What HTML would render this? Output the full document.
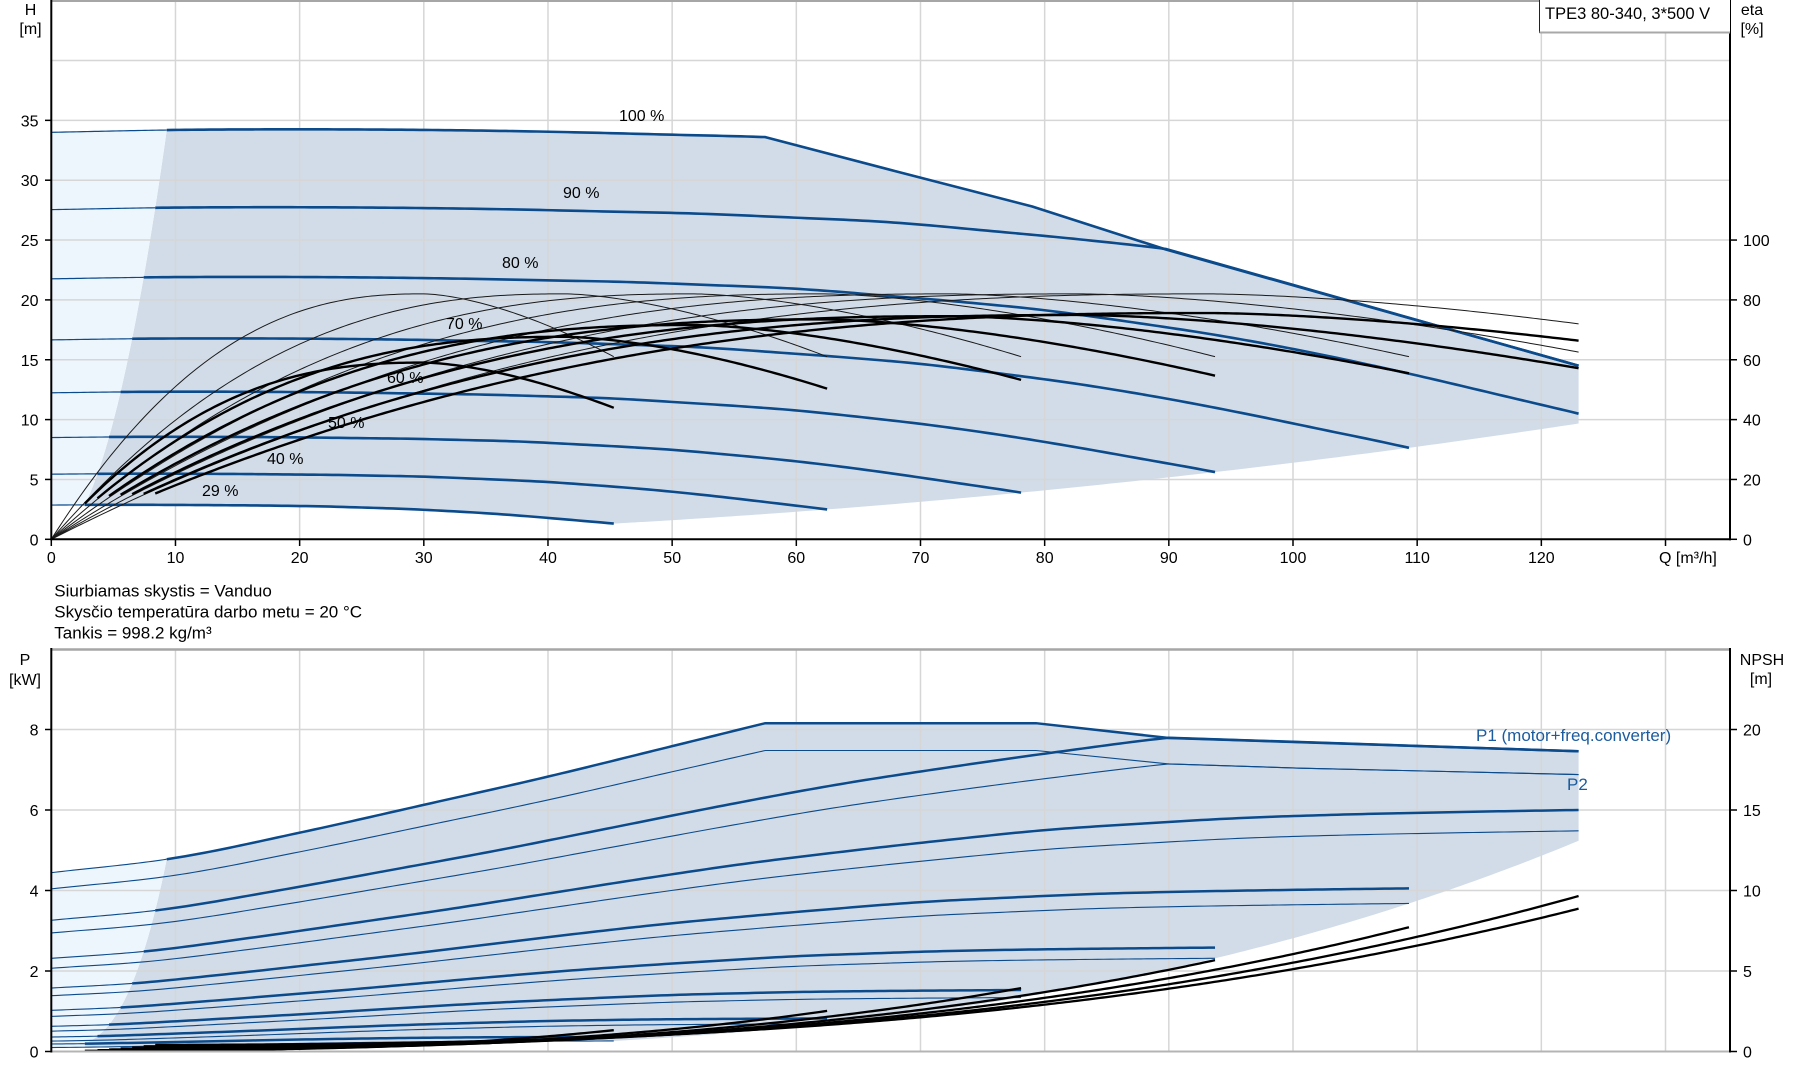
<!DOCTYPE html>
<html><head><meta charset="utf-8">
<style>
html,body{margin:0;padding:0;background:#fff;}
svg{display:block;}
text{font-family:"Liberation Sans",Arial,sans-serif;fill:#000;}
</style></head>
<body>
<svg id="c" width="1795" height="1081" viewBox="0 0 1795 1081" xmlns="http://www.w3.org/2000/svg">
<rect x="0" y="0" width="1795" height="1081" fill="#fff"/>
<g id="fills"></g>
<g id="grid"></g>
<g id="curves"></g>
<g id="axes"></g>
<rect x="1539.5" y="-2" width="190.5" height="34.5" fill="#fff" stroke="none"/>
<line x1="1539.5" y1="-1" x2="1539.5" y2="33" stroke="#222" stroke-width="1"/>
<line x1="1539.5" y1="32.5" x2="1730" y2="32.5" stroke="#a8a8a8" stroke-width="2"/>
<g font-size="16">
<text x="1545" y="19" font-size="16.5">TPE3 80-340, 3*500 V</text>
<text x="30.5" y="15" text-anchor="middle">H</text>
<text x="30.5" y="34" text-anchor="middle">[m]</text>
<text x="1752" y="15" text-anchor="middle">eta</text>
<text x="1752" y="34" text-anchor="middle">[%]</text>

<g text-anchor="end">
<text x="38.5" y="545.3">0</text>
<text x="38.5" y="485.5">5</text>
<text x="38.5" y="425.6">10</text>
<text x="38.5" y="365.8">15</text>
<text x="38.5" y="305.9">20</text>
<text x="38.5" y="246.1">25</text>
<text x="38.5" y="186.2">30</text>
<text x="38.5" y="126.4">35</text>
</g>
<g>
<text x="1743" y="545.3">0</text>
<text x="1743" y="485.5">20</text>
<text x="1743" y="425.6">40</text>
<text x="1743" y="365.8">60</text>
<text x="1743" y="305.9">80</text>
<text x="1743" y="246.1">100</text>
</g>
<g text-anchor="middle">
<text x="51.3" y="563">0</text>
<text x="175.5" y="563">10</text>
<text x="299.6" y="563">20</text>
<text x="423.8" y="563">30</text>
<text x="548.0" y="563">40</text>
<text x="672.2" y="563">50</text>
<text x="796.3" y="563">60</text>
<text x="920.5" y="563">70</text>
<text x="1044.7" y="563">80</text>
<text x="1168.8" y="563">90</text>
<text x="1293.0" y="563">100</text>
<text x="1417.2" y="563">110</text>
<text x="1541.3" y="563">120</text>
</g>
<text x="1659" y="563">Q [m³/h]</text>

<text x="619" y="121">100 %</text>
<text x="563" y="198">90 %</text>
<text x="502" y="268">80 %</text>
<text x="446" y="329">70 %</text>
<text x="387" y="383">60 %</text>
<text x="328" y="428">50 %</text>
<text x="267" y="464">40 %</text>
<text x="202" y="496">29 %</text>

<g font-size="17">
<text x="54.3" y="596.7">Siurbiamas skystis = Vanduo</text>
<text x="54.3" y="617.3">Skysčio temperatūra darbo metu = 20 °C</text>
<text x="54.3" y="638.3">Tankis = 998.2 kg/m³</text>
</g>

<text x="25" y="665" text-anchor="middle">P</text>
<text x="25" y="685" text-anchor="middle">[kW]</text>
<text x="1762" y="665" text-anchor="middle">NPSH</text>
<text x="1761" y="684" text-anchor="middle">[m]</text>
<g text-anchor="end">
<text x="38.5" y="1057.5">0</text>
<text x="38.5" y="977">2</text>
<text x="38.5" y="896.5">4</text>
<text x="38.5" y="816">6</text>
<text x="38.5" y="735.5">8</text>
</g>
<g>
<text x="1743" y="1057.5">0</text>
<text x="1743" y="977">5</text>
<text x="1743" y="896.5">10</text>
<text x="1743" y="816">15</text>
<text x="1743" y="735.5">20</text>
</g>
<text x="1476" y="741" font-size="17" style="fill:#1b5b9e">P1 (motor+freq.converter)</text>
<text x="1567" y="790" font-size="17" style="fill:#1b5b9e">P2</text>
</g>
</svg>
<script>
(function(){
const NS='http://www.w3.org/2000/svg';
function el(parent,tag,attrs){const e=document.createElementNS(NS,tag);for(const k in attrs)e.setAttribute(k,attrs[k]);parent.appendChild(e);return e;}
const gF=document.getElementById('fills'),gG=document.getElementById('grid'),gC=document.getElementById('curves'),gA=document.getElementById('axes');
const X=q=>51.3+q*12.417;
const YH=h=>539.3-h*11.97;
const YE=e=>539.3-e*2.993;
const YP=p=>1051.5-p*40.25;
const YN=v=>1051.5-v*16.1;
function herm(tab,x){
  const n=tab.length;
  if(x<=tab[0][0]){const s=(tab[1][1]-tab[0][1])/(tab[1][0]-tab[0][0]);return tab[0][1]+s*(x-tab[0][0]);}
  if(x>=tab[n-1][0]){const s=(tab[n-1][1]-tab[n-2][1])/(tab[n-1][0]-tab[n-2][0]);return tab[n-1][1]+s*(x-tab[n-1][0]);}
  let i=0;while(i<n-2&&x>tab[i+1][0])i++;
  const m=j=>{ if(j===0) return (tab[1][1]-tab[0][1])/(tab[1][0]-tab[0][0]); if(j===n-1) return (tab[n-1][1]-tab[n-2][1])/(tab[n-1][0]-tab[n-2][0]); return (tab[j+1][1]-tab[j-1][1])/(tab[j+1][0]-tab[j-1][0]);};
  const x0=tab[i][0],x1=tab[i+1][0],y0=tab[i][1],y1=tab[i+1][1],h=x1-x0,t=(x-x0)/h;
  const t2=t*t,t3=t2*t;
  return (2*t3-3*t2+1)*y0+(t3-2*t2+t)*h*m(i)+(-2*t3+3*t2)*y1+(t3-t2)*h*m(i+1);
}
const FT=[[0,34.0],[10,34.2],[20,34.25],[30,34.2],[40,34.05],[50,33.8],[57.5,33.6],[65,33.25],[75,32.7],[85,31.7],[92.3,30.9],[100,29.9],[109,28.3],[118,26.5],[127.3,24.25],[136.75,21.6],[147.9,18.2],[152.8,16.7],[156.2,15.6],[160,14.4]];
const G2=[[0,4.04],[10,4.38],[20,4.96],[30,5.6],[40,6.25],[50,6.95],[60,7.65],[70,8.3],[80,8.85],[90,9.35],[100,9.8],[110,10.1],[120,10.35],[130,10.5],[140,10.6],[150,10.68],[160,10.75]];
const f=Q=>herm(FT,Q);
const g2=Q=>herm(G2,Q);
const H=(q,n)=>n*n*f(q/n);
const P2=(q,n)=>n*n*n*g2(q/n);
const P1=(q,n)=>0.08+1.08*P2(q,n);
function etap(Q){ if(Q<=103.4){const x=1-Q/103.4;return 82*(1-Math.pow(Math.max(x,0),2.4));} const x=Q/103.4-1; return 82*(1-0.75*Math.pow(x,1.6)); }
const M={'0.29':0.72,'0.4':0.825,'0.5':0.873,'0.6':0.896,'0.7':0.909,'0.8':0.914,'0.9':0.922};
const K=Q=>0.5+15.2*Math.pow(Q/156,2.83);
function samp(fn,a,b,step){const pts=[];const N=Math.max(2,Math.ceil(Math.abs(b-a)/(step||0.5)));for(let i=0;i<=N;i++){const q=a+(b-a)*i/N;pts.push([q,fn(q)]);}return pts;}
function pathD(pts,YF){return pts.map((p,i)=>(i?'L':'M')+X(p[0]).toFixed(2)+' '+YF(p[1]).toFixed(2)).join(' ');}
function polyD(px){return px.map((p,i)=>(i?'L':'M')+p[0].toFixed(2)+' '+p[1].toFixed(2)).join(' ')+' Z';}
const S=[0.29,0.4,0.5,0.6,0.7,0.8,0.9,1.0];
const BLUE='#0b4a8b';
const SHADE='#d1dce8', LIGHT='#eef6fd';

/* ---------- upper fills ---------- */
let poly=[];
samp(q=>H(q,1),9.3,57.5).forEach(p=>poly.push([X(p[0]),YH(p[1])]));
[[68,30.75],[79,27.8],[89.8,24.2],[123,14.5]].forEach(p=>poly.push([X(p[0]),YH(p[1])]));
const fmax=f(156.2);
samp(q=>fmax*Math.pow(q/156.2,2),123,156.2*0.29).forEach(p=>poly.push([X(p[0]),YH(p[1])]));
samp(q=>H(q,0.29),156.2*0.29,9.3*0.29).forEach(p=>poly.push([X(p[0]),YH(p[1])]));
for(let i=0;i<=40;i++){const n=0.29+(1-0.29)*i/40;poly.push([X(9.3*n),YH(H(9.3*n,n))]);}
el(gF,'path',{d:polyD(poly),fill:SHADE});
let lp=[];
samp(q=>H(q,1),0,9.3).forEach(p=>lp.push([X(p[0]),YH(p[1])]));
for(let i=0;i<=40;i++){const n=1-(1-0.29)*i/40;lp.push([X(9.3*n),YH(H(9.3*n,n))]);}
samp(q=>H(q,0.29),9.3*0.29,0).forEach(p=>lp.push([X(p[0]),YH(p[1])]));
el(gF,'path',{d:polyD(lp),fill:LIGHT});

/* ---------- lower fills ---------- */
poly=[];
samp(q=>P1(q,1),9.3,57.5).forEach(p=>poly.push([X(p[0]),YP(p[1])]));
const p1top=P1(57.5,1);
[[79.3,p1top],[90,7.79],[123,7.46]].forEach(p=>poly.push([X(p[0]),YP(p[1])]));
const g2max=g2(156.2);
samp(q=>g2max*Math.pow(q/156.2,3),123,156.2*0.29).forEach(p=>poly.push([X(p[0]),YP(p[1])]));
samp(q=>P2(q,0.29),156.2*0.29,9.3*0.29).forEach(p=>poly.push([X(p[0]),YP(p[1])]));
for(let i=0;i<=40;i++){const n=0.29+(1-0.29)*i/40;poly.push([X(9.3*n),YP(P1(9.3*n,n))]);}
el(gF,'path',{d:polyD(poly),fill:SHADE});
lp=[];
samp(q=>P1(q,1),0,9.3).forEach(p=>lp.push([X(p[0]),YP(p[1])]));
for(let i=0;i<=40;i++){const n=1-(1-0.29)*i/40;lp.push([X(9.3*n),YP(P1(9.3*n,n))]);}
samp(q=>P2(q,0.29),9.3*0.29,0).forEach(p=>lp.push([X(p[0]),YP(p[1])]));
el(gF,'path',{d:polyD(lp),fill:LIGHT});

/* ---------- grid ---------- */
const GC='#d6d6d6';
for(let q=10;q<=130;q+=10){
  el(gG,'line',{x1:X(q),y1:0,x2:X(q),y2:539.3,stroke:GC,'stroke-width':1.5});
  el(gG,'line',{x1:X(q),y1:649,x2:X(q),y2:1051.5,stroke:GC,'stroke-width':1.5});
}
for(let h=5;h<=40;h+=5) el(gG,'line',{x1:51.3,y1:YH(h),x2:1730,y2:YH(h),stroke:GC,'stroke-width':1.5});
for(let p=2;p<=8;p+=2) el(gG,'line',{x1:51.3,y1:YP(p),x2:1730,y2:YP(p),stroke:GC,'stroke-width':1.5});

/* ---------- upper curves ---------- */
function line(pts,YF,w,c){el(gC,'path',{d:pathD(pts,YF),fill:'none',stroke:c,'stroke-width':w,'stroke-linejoin':'round','stroke-linecap':'butt'});}
S.forEach(n=>{
  const qmin=9.3*n;
  line(samp(q=>H(q,n),0,qmin,0.3),YH,1.2,BLUE);
  let pts;
  if(n===1){pts=samp(q=>H(q,1),qmin,57.5);pts=pts.concat([[68,30.75],[79,27.8],[89.8,24.2],[123,14.5]]);}
  else if(n===0.9){pts=samp(q=>H(q,n),qmin,89.8);pts.push([123,14.5]);}
  else{pts=samp(q=>H(q,n),qmin,Math.min(156.2*n,123));}
  line(pts,YH,2.6,BLUE);
});
S.filter(n=>n<1).forEach(n=>{
  const qmin=9.3*n, qend=Math.min(156.2*n,123);
  line(samp(q=>etap(q/n),0,qend,0.3),YE,1.0,'#1a1a1a');
});
S.filter(n=>n<1).forEach(n=>{
  const qmin=9.3*n, qend=Math.min(156.2*n,123);
  line(samp(q=>etap(q/n)*M[String(n)],qmin,qend,0.3),YE,2.4,'#000');
});

/* ---------- lower curves ---------- */
S.forEach(n=>{
  const qmin=9.3*n;
  let p2;
  if(n===1){p2=samp(q=>P2(q,1),0,57.5);p2=p2.concat([[79.3,P2(57.5,1)],[90,7.144],[100.6,7.04],[123,6.88]]);}
  else if(n===0.9){p2=samp(q=>P2(q,n),0,90);p2=p2.concat([[100.6,7.04],[123,6.88]]);}
  else{p2=samp(q=>P2(q,n),0,Math.min(156.2*n,123));}
  line(p2,YP,1.1,BLUE);
  line(samp(q=>P1(q,n),0,qmin,0.3),YP,1.1,BLUE);
  let p1;
  if(n===1){p1=samp(q=>P1(q,1),qmin,57.5);p1=p1.concat([[79.3,p1top],[90,7.79],[123,7.46]]);}
  else if(n===0.9){p1=samp(q=>P1(q,n),qmin,90);p1.push([123,7.46]);}
  else{p1=samp(q=>P1(q,n),qmin,Math.min(156.2*n,123));}
  line(p1,YP,2.5,BLUE);
});
S.filter(n=>n<1).forEach(n=>{
  const qmin=9.3*n, qend=Math.min(156.2*n,123);
  line(samp(q=>n*n*K(q/n),qmin,qend,0.3),YN,2.3,'#000');
});

/* ---------- axes ---------- */
const A=(x1,y1,x2,y2,c,w)=>el(gA,'line',{x1,y1,x2,y2,stroke:c,'stroke-width':w});
A(51.3,1,1730,1,'#a6a6a6',2);
A(51.3,0,51.3,540.3,'#000',2);
A(1730,0,1730,540.3,'#000',2);
A(50.3,539.3,1731,539.3,'#000',2);
for(let h=0;h<=35;h+=5) A(45,YH(h),51.3,YH(h),'#000',1.5);
for(let h=0;h<=25;h+=5) A(1730,YH(h),1737,YH(h),'#000',1.5);
for(let q=0;q<=130;q+=10) A(X(q),539.3,X(q),546,'#000',1.5);
A(51.3,649.5,1730,649.5,'#a6a6a6',2.5);
A(51.3,1051.5,1730,1051.5,'#b4b4b4',2);
A(51.3,648,51.3,1052.5,'#000',2);
A(1730,648,1730,1052.5,'#000',2);
for(let p=0;p<=8;p+=2) A(45,YP(p),51.3,YP(p),'#000',1.5);
for(let p=0;p<=8;p+=2) A(1730,YP(p),1737,YP(p),'#000',1.5);
})();
</script>
</body></html>
